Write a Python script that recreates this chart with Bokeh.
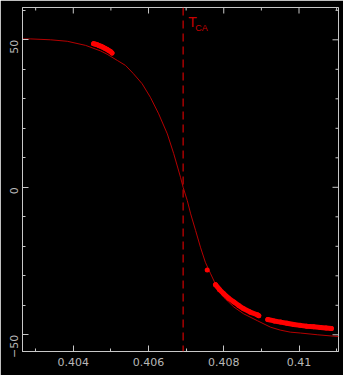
import math
from bokeh.plotting import figure
from bokeh.models import Range1d, LinearAxis, FixedTicker, Span, Label
from bokeh.embed import file_html
from bokeh.resources import INLINE

# ---- data ----
curve_x = [0.40265, 0.40287, 0.40340, 0.40384, 0.40433, 0.40473, 0.40490, 0.40517,
           0.40539, 0.40560, 0.40583, 0.40605, 0.40627, 0.40650, 0.40667, 0.40685, 0.40692,
           0.40703, 0.40712, 0.40725, 0.40738, 0.40751, 0.40765, 0.40782, 0.40800, 0.40827,
           0.40853, 0.40889, 0.40924, 0.40950, 0.40977, 0.41004, 0.41050, 0.41105]
curve_y = [50.3, 50.3, 50.0, 49.5, 48.1, 46.2, 45.1, 43.0,
           41.3, 38.5, 35.1, 30.5, 24.9, 18.1, 11.4, 3.4, 0.0,
           -4.5, -9.0, -14.6, -20.3, -25.4, -29.3, -33.9, -37.3, -40.6,
           -42.9, -45.2, -47.4, -48.4, -49.1, -49.4, -50.0, -50.6]

c1_x = [0.40454, 0.40459, 0.40464, 0.40469, 0.40474, 0.40479, 0.40484, 0.40489, 0.40494, 0.40499, 0.40503]
c1_y = [48.7, 48.5, 48.3, 48.0, 47.8, 47.5, 47.1, 46.8, 46.4, 46.0, 45.5]

single_x = [0.40756]
single_y = [-28.0]

c2_x = [0.40778, 0.40789, 0.40800, 0.40813, 0.40827, 0.40840, 0.40853, 0.40870, 0.40889, 0.40893]
c2_y = [-33.0, -34.7, -36.1, -37.6, -38.9, -40.1, -41.2, -42.3, -43.2, -43.5]

c3_x = [0.40917, 0.40934, 0.40951, 0.40968, 0.40986, 0.41003, 0.41021, 0.41039, 0.41057, 0.41072, 0.41086]
c3_y = [-44.8, -45.3, -45.7, -46.1, -46.5, -46.8, -47.1, -47.3, -47.5, -47.7, -47.9]

t_ca = 0.40692

x_min, x_max = 0.40265, 0.41105
y_min, y_max = -55.66, 60.95

x_ticks = [0.404, 0.406, 0.408, 0.410]
x_tick_labels = ["0.404", "0.406", "0.408", "0.41"]
x_minor = [0.403, 0.404, 0.405, 0.406, 0.407, 0.408, 0.409, 0.410, 0.411]
y_ticks = [-50, 0, 50]
y_tick_labels = ["\u221250", "0", "50"]
y_minor = [-50, -40, -30, -20, -10, 0, 10, 20, 30, 40, 50, 60]

# ---- styling ----
FRAME = "#c8c8c8"
LABEL = "#b8b8b8"
FONT = "DejaVu Sans"

p = figure(width=343, height=375, output_backend="svg", toolbar_location=None,
           x_range=Range1d(x_min, x_max), y_range=Range1d(y_min, y_max),
           min_border_left=22, min_border_right=5, min_border_top=7, min_border_bottom=24,
           x_axis_type=None, y_axis_type=None)
p.background_fill_color = "black"
p.border_fill_color = "black"
p.outline_line_color = FRAME
p.xgrid.visible = False
p.ygrid.visible = False


def style(ax):
    ax.axis_line_color = FRAME
    ax.major_tick_line_color = FRAME
    ax.minor_tick_line_color = FRAME
    ax.major_tick_in = 6
    ax.major_tick_out = 0
    ax.minor_tick_in = 3
    ax.minor_tick_out = 0
    ax.major_label_text_color = LABEL
    ax.major_label_text_font = FONT
    ax.major_label_text_font_size = "11px"


xb = LinearAxis(ticker=FixedTicker(ticks=x_ticks, minor_ticks=x_minor),
                major_label_overrides=dict(zip(x_ticks, x_tick_labels)))
style(xb)
xb.major_label_standoff = 6
p.add_layout(xb, "below")

yl = LinearAxis(ticker=FixedTicker(ticks=y_ticks, minor_ticks=y_minor),
                major_label_overrides=dict(zip(y_ticks, y_tick_labels)))
style(yl)
yl.major_label_orientation = math.pi / 2
yl.major_label_standoff = 8
p.add_layout(yl, "left")

# ticks on the top and right edges of the frame (no labels)
x_minor_only = [t for t in x_minor if t not in x_ticks]
y_minor_only = [t for t in y_minor if t not in y_ticks]
p.ray(x=x_ticks, y=[y_max] * len(x_ticks), length=6, length_units="screen",
      angle=-math.pi / 2, line_color=FRAME, line_width=1)
p.ray(x=x_minor_only, y=[y_max] * len(x_minor_only), length=3, length_units="screen",
      angle=-math.pi / 2, line_color=FRAME, line_width=1)
p.ray(x=[x_max] * len(y_ticks), y=y_ticks, length=6, length_units="screen",
      angle=math.pi, line_color=FRAME, line_width=1)
p.ray(x=[x_max] * len(y_minor_only), y=y_minor_only, length=3, length_units="screen",
      angle=math.pi, line_color=FRAME, line_width=1)

# fitted curve
p.line(curve_x, curve_y, line_color="#b40000", line_width=1)

# data points
PT = "#ff0000"
for xs, ys in [(c1_x, c1_y), (c2_x, c2_y), (c3_x, c3_y)]:
    p.line(xs, ys, line_color=PT, line_width=5, line_cap="round", line_join="round")
    p.scatter(xs, ys, size=5, fill_color=PT, line_color=None)
p.scatter(single_x, single_y, size=5, fill_color=PT, line_color=None)

# T_CA line and label
p.add_layout(Span(location=t_ca, dimension="height", line_color="#d00000",
                  line_width=1.2, line_dash="8 5"))
p.add_layout(Label(x=t_ca, y=53.2, x_offset=5, text="T", text_color="#c80000",
                   text_font="Liberation Sans", text_font_size="14px"))
p.add_layout(Label(x=t_ca, y=52.3, x_offset=12, text="CA", text_color="#c80000",
                   text_font="Liberation Sans", text_font_size="9px"))

open("out.html", "w").write(file_html(p, INLINE))
